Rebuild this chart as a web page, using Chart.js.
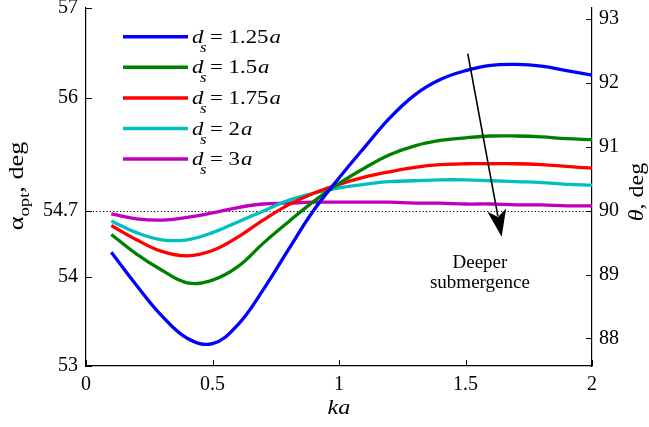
<!DOCTYPE html>
<html><head><meta charset="utf-8">
<script src="https://cdn.jsdelivr.net/npm/chart.js@4.4.0/dist/chart.umd.min.js"></script>
<style>html,body{margin:0;padding:0;background:#fff;} #wrap{width:649px;height:427px;}</style>
</head><body><div id="wrap"><canvas id="c" width="649" height="427"></canvas></div>
<script>
const kaValues = [0.1,0.2,0.3,0.4,0.5,0.6,0.7,0.8,0.9,1.0,1.1,1.2,1.3,1.4,1.5,1.6,1.7,1.8,1.9,2.0];
const alpha125 = [54.27,53.90,53.56,53.31,53.25,53.46,53.85,54.30,54.74,55.10,55.44,55.77,56.03,56.20,56.30,56.36,56.37,56.35,56.30,56.25];
const alpha150 = [54.47,54.25,54.07,53.93,53.96,54.11,54.37,54.61,54.84,55.04,55.21,55.36,55.46,55.52,55.55,55.57,55.57,55.56,55.54,55.53];
const alpha175 = [54.57,54.41,54.28,54.23,54.29,54.44,54.63,54.80,54.93,55.03,55.11,55.17,55.22,55.25,55.26,55.26,55.26,55.25,55.23,55.21];
const alpha200 = [54.62,54.49,54.41,54.41,54.49,54.61,54.73,54.85,54.93,54.99,55.03,55.06,55.07,55.08,55.08,55.07,55.06,55.05,55.03,55.02];
const alpha300 = [54.70,54.645,54.63,54.66,54.71,54.77,54.81,54.82,54.83,54.83,54.83,54.83,54.82,54.82,54.81,54.81,54.80,54.80,54.79,54.79];
const seriesLabels = ['1.25','1.5','1.75','2','3'];
const seriesColors = ['#0000ff','#008000','#ff0000','#00bfbf','#bf00bf'];
const xTicks = [0,0.5,1,1.5,2];
const leftTicks = [53,54,54.7356,56,57];
const leftTickLabels = ['53','54','54.7','56','57'];
const rightTicks = [88,89,90,91,92,93];
const magicAngle = 54.7356;
const arrowFrom = {ka:1.509, alpha:56.49};
const arrowTo = {ka:1.643, alpha:54.445};
const noteLines = ['Deeper','submergence'];
const notePos = [{ka:1.557, alpha:54.15},{ka:1.557, alpha:53.93}];

const FONT = "'Liberation Serif','Times New Roman',serif";
const allSeries = [alpha125, alpha150, alpha175, alpha200, alpha300];
const datasets = allSeries.map((arr,i)=>({
  label: 'd_s = ' + seriesLabels[i] + 'a',
  data: kaValues.map((k,j)=>({x:k, y:arr[j]})),
  borderColor: seriesColors[i],
  backgroundColor: seriesColors[i],
  borderWidth: 3.3,
  pointRadius: 0,
  tension: 0.4,
  yAxisID: 'y'
}));

function noPad(s){ s.paddingTop=0; s.paddingBottom=0; s.paddingLeft=0; s.paddingRight=0; }
function sText(ctx, font, txt, x, y, sx){
  ctx.font = font;
  ctx.save(); ctx.translate(x,y); ctx.scale(sx,1); ctx.fillText(txt,0,0); ctx.restore();
  return ctx.measureText(txt).width*sx;
}
function measure(ctx, font, txt, sx){ ctx.font = font; return ctx.measureText(txt).width*sx; }

const deco = {
  id:'deco',
  beforeDatasetsDraw(chart){
    const ctx = chart.ctx, a = chart.chartArea, y = chart.scales.y;
    const py = Math.round(y.getPixelForValue(magicAngle)) + 0.5;
    ctx.save();
    ctx.strokeStyle = '#000'; ctx.lineWidth = 1.2; ctx.setLineDash([1.2,2.2]);
    ctx.beginPath(); ctx.moveTo(a.left, py); ctx.lineTo(a.right, py); ctx.stroke();
    ctx.restore();
  },
  afterDraw(chart){
    const ctx = chart.ctx, a = chart.chartArea, sx = chart.scales.x, sy = chart.scales.y, sy2 = chart.scales.y2;
    ctx.save();
    ctx.strokeStyle = '#000'; ctx.lineWidth = 1;
    ctx.beginPath();
    xTicks.forEach(v=>{ const p = Math.round(sx.getPixelForValue(v))+0.5; ctx.moveTo(p, a.bottom); ctx.lineTo(p, a.bottom-6); });
    leftTicks.forEach(v=>{ const p = Math.round(sy.getPixelForValue(v))+0.5; ctx.moveTo(a.left, p); ctx.lineTo(a.left+6, p); });
    rightTicks.forEach(v=>{ const p = Math.round(sy2.getPixelForValue(v))+0.5; ctx.moveTo(a.right, p); ctx.lineTo(a.right-6, p); });
    ctx.stroke();

    // legend
    ctx.textBaseline = 'alphabetic'; ctx.textAlign = 'left'; ctx.fillStyle = '#000';
    const LS = 1.2;
    seriesLabels.forEach((lab,i)=>{
      const ly = 36.7 + i*30.6;
      ctx.strokeStyle = seriesColors[i]; ctx.lineWidth = 3.5;
      ctx.beginPath(); ctx.moveTo(123, ly); ctx.lineTo(188, ly); ctx.stroke();
      sText(ctx, 'italic 19px ' + FONT, 'd', 192, ly+6, LS);
      sText(ctx, 'italic 14px ' + FONT, 's', 200, ly+15, LS);
      let x = 210;
      x += sText(ctx, '19px ' + FONT, '= ' + lab, x, ly+6, LS) + 1;
      sText(ctx, 'italic 19px ' + FONT, 'a', x, ly+6, LS);
    });

    // x title
    const kw = measure(ctx, 'italic 21px ' + FONT, 'ka', 1.15);
    sText(ctx, 'italic 21px ' + FONT, 'ka', (a.left+a.right)/2 - kw/2, 414, 1.15);

    // left title
    ctx.save();
    ctx.translate(23, 186); ctx.rotate(-Math.PI/2);
    const TS = 1.25;
    const w1 = measure(ctx, '21px ' + FONT, 'α', TS);
    const w2 = measure(ctx, '15px ' + FONT, 'opt', TS);
    const w3 = measure(ctx, '21px ' + FONT, ', deg', TS);
    let tx = -(w1+w2+w3)/2;
    tx += sText(ctx, '21px ' + FONT, 'α', tx, 0, TS);
    tx += sText(ctx, '15px ' + FONT, 'opt', tx, 6, TS);
    sText(ctx, '21px ' + FONT, ', deg', tx, 0, TS);
    ctx.restore();

    // right title
    ctx.save();
    ctx.translate(643, 192); ctx.rotate(-Math.PI/2);
    const v1 = measure(ctx, 'italic 20px ' + FONT, 'θ', 1.2);
    const v2 = measure(ctx, '20px ' + FONT, ', deg', 1.2);
    let rx = -(v1+v2)/2;
    rx += sText(ctx, 'italic 20px ' + FONT, 'θ', rx, 0, 1.2);
    sText(ctx, '20px ' + FONT, ', deg', rx, 0, 1.2);
    ctx.restore();

    // arrow
    const x0 = sx.getPixelForValue(arrowFrom.ka), y0 = sy.getPixelForValue(arrowFrom.alpha);
    const x1 = sx.getPixelForValue(arrowTo.ka), y1 = sy.getPixelForValue(arrowTo.alpha);
    const ang = Math.atan2(y1-y0, x1-x0), L = 27, W = 9.5;
    const bx = x1 - L*Math.cos(ang), by = y1 - L*Math.sin(ang);
    ctx.strokeStyle = '#000'; ctx.lineWidth = 1.6;
    ctx.beginPath(); ctx.moveTo(x0,y0); ctx.lineTo(bx + 6*Math.cos(ang), by + 6*Math.sin(ang)); ctx.stroke();
    const nx = -Math.sin(ang), ny = Math.cos(ang);
    ctx.fillStyle = '#000';
    ctx.beginPath();
    ctx.moveTo(x1,y1);
    ctx.lineTo(bx + W*nx, by + W*ny);
    ctx.lineTo(bx + 7*Math.cos(ang), by + 7*Math.sin(ang));
    ctx.lineTo(bx - W*nx, by - W*ny);
    ctx.closePath(); ctx.fill();

    // note
    ctx.textBaseline = 'middle';
    noteLines.forEach((s,i)=>{
      const w = measure(ctx, '19px ' + FONT, s, 1.0);
      sText(ctx, '19px ' + FONT, s, sx.getPixelForValue(notePos[i].ka) - w/2, sy.getPixelForValue(notePos[i].alpha), 1.0);
    });
    ctx.restore();
  }
};

new Chart(document.getElementById('c'), {
  type:'line',
  data:{ datasets },
  options:{
    responsive:false, animation:false, devicePixelRatio:1,
    layout:{ padding:{ top:8, left:0, right:0, bottom:0 } },
    plugins:{ legend:{display:false}, tooltip:{enabled:false} },
    scales:{
      x:{ type:'linear', min:0, max:2, position:'bottom',
          grid:{display:false, drawTicks:false}, border:{display:true, color:'#000', width:1.2},
          afterBuildTicks(s){ s.ticks = xTicks.map(v=>({value:v})); },
          ticks:{ color:'#000', font:{family:FONT, size:20}, padding:7, maxRotation:0, callback:(v)=>String(v) },
          afterFit(s){ s.height = 61; noPad(s); } },
      y:{ type:'linear', min:53, max:57, position:'left',
          grid:{display:false, drawTicks:false}, border:{display:true, color:'#000', width:1.2},
          afterBuildTicks(s){ s.ticks = leftTicks.map(v=>({value:v})); },
          ticks:{ color:'#000', font:{family:FONT, size:20}, padding:8,
                  callback:(v)=>{ const i = leftTicks.indexOf(v); return i>=0 ? leftTickLabels[i] : ''; } },
          afterFit(s){ s.width = 86; noPad(s); } },
      y2:{ type:'linear', min:87.567, max:93.175, position:'right',
          grid:{display:false, drawTicks:false}, border:{display:true, color:'#000', width:1.2},
          afterBuildTicks(s){ s.ticks = rightTicks.map(v=>({value:v})); },
          ticks:{ color:'#000', font:{family:FONT, size:20}, padding:7 },
          afterFit(s){ s.width = 57; noPad(s); } }
    }
  },
  plugins:[deco]
});
</script></body></html>
